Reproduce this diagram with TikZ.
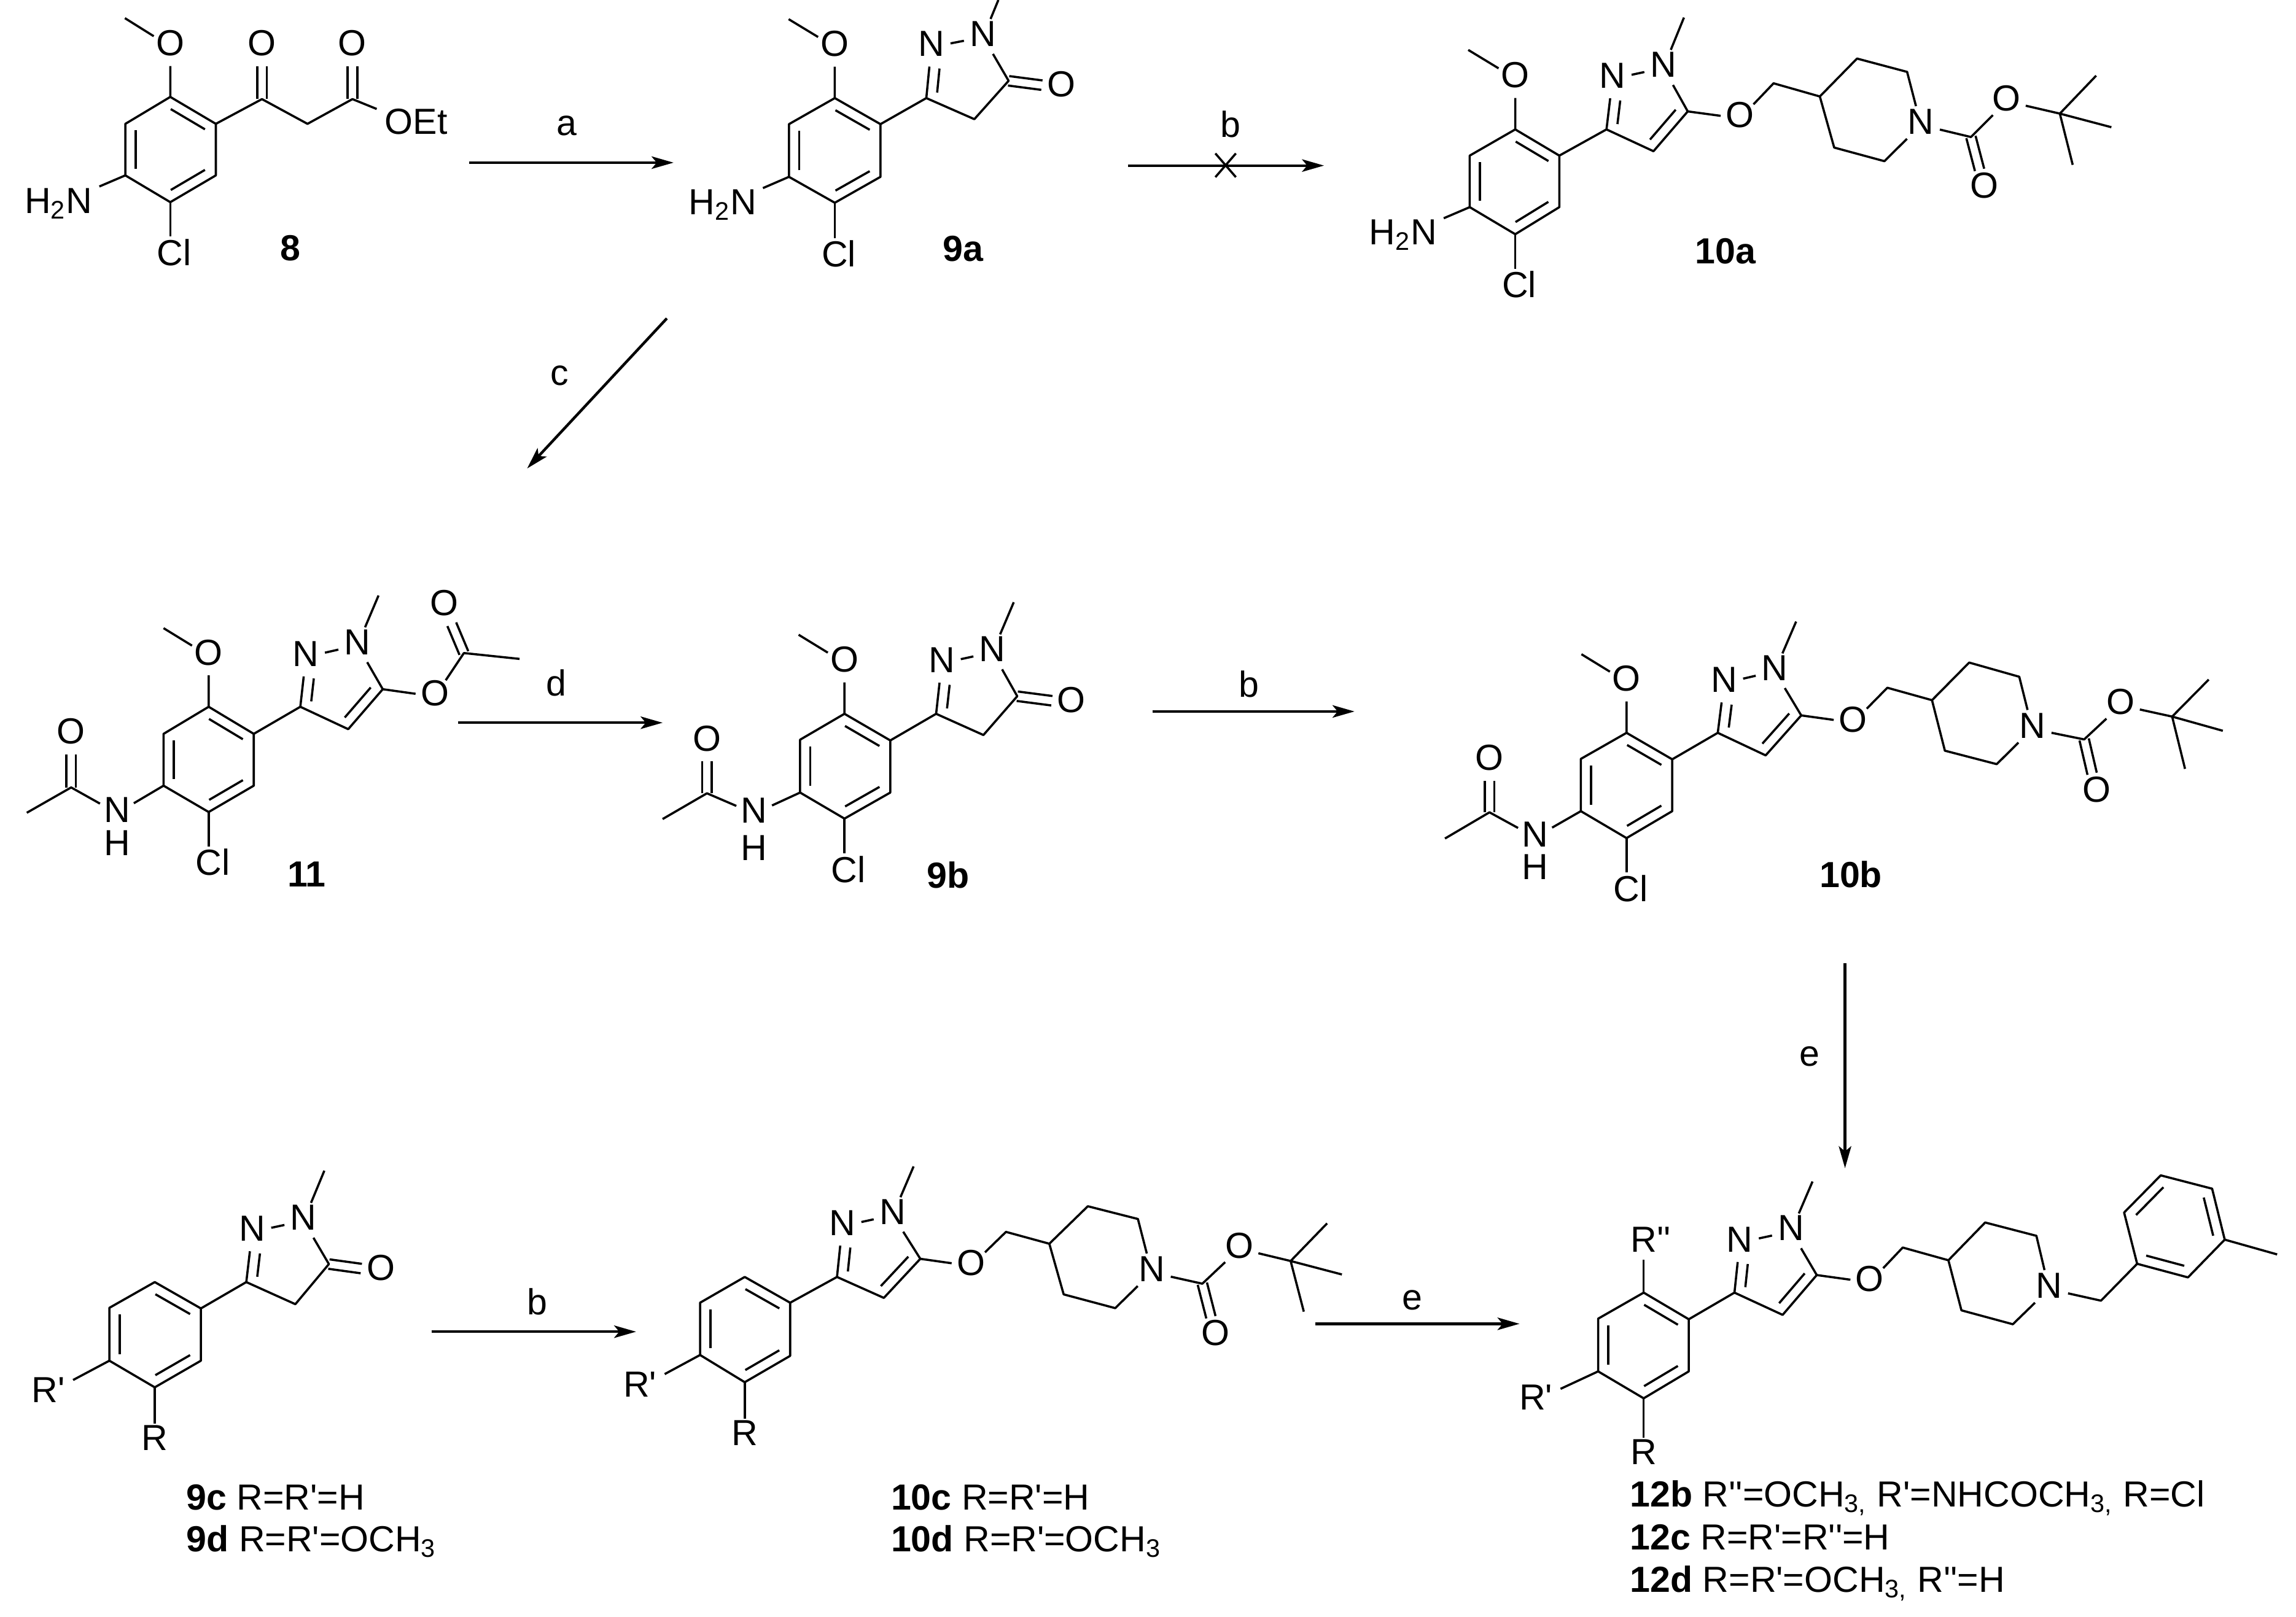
\documentclass[tikz,border=0pt]{standalone}
\usepackage{fontspec}
\setmainfont{Liberation Sans}[Ligatures=TeXOff]
\usetikzlibrary{arrows.meta, calc}

\newcommand{\pts}[2]{\foreach \n/\x/\y in {#2} {\coordinate (#1\n) at (\x,\y);}}
\newcommand{\atoms}[2]{\foreach \n/\t/\x/\y in {#2} {\node[atom] (#1\n) at (\x,\y) {\t};}}
% inner line of a double bond, on the right of a->b
\newcommand{\inbond}[3][0.09cm]{\draw[bond, shorten <=0.09cm, shorten >=#1] ($(#2)!-0.14cm!90:(#3)$) -- ($(#3)!-0.14cm!-90:(#2)$);}
% carbonyl: two lines either side of a->b
\newcommand{\cobond}[2]{
    \draw[bond, shorten >=0.27cm] ($(#1)!0.065cm!90:(#2)$) -- ($(#2)!0.065cm!-90:(#1)$);
    \draw[bond, shorten >=0.27cm] ($(#1)!-0.065cm!90:(#2)$) -- ($(#2)!-0.065cm!-90:(#1)$);
}
\newcommand{\aryl}[1]{
    \draw[bond] (#1c1) -- (#1c2) -- (#1c3) -- (#1c4) -- (#1c5) -- (#1c6) -- cycle;
    \inbond{#1c1}{#1c2} \inbond{#1c3}{#1c4} \inbond{#1c5}{#1c6}
}
\newcommand{\azole}[1]{
    \draw[bond] (#1c2) -- (#1p3) -- (#1pN) -- (#1qN) -- (#1pMe);
    \draw[bond] (#1qN) -- (#1p5) -- (#1p4) -- (#1p3);
    \inbond[0.28cm]{#1p3}{#1pN}
}
\newcommand{\anisyl}[1]{
    \draw[bond] (#1c1) -- (#1oO) -- (#1oMe);
    \draw[bond] (#1c4) -- (#1Cl);
}
\newcommand{\acetyl}[1]{
    \draw[bond] (#1c5) -- (#1aN) -- (#1aC) -- (#1aMe);
    \cobond{#1aC}{#1aO}
}
\newcommand{\pipe}[1]{
    \draw[bond] (#1p5) -- (#1xO) -- (#1xC) -- (#1r4) -- (#1r3) -- (#1r2) -- (#1rN) -- (#1s2) -- (#1s3) -- (#1r4);
}
\newcommand{\boc}[1]{
    \draw[bond] (#1rN) -- (#1bC) -- (#1bO) -- (#1bt) -- (#1bm);
    \draw[bond] (#1bn) -- (#1bt) -- (#1bk);
    \cobond{#1bC}{#1bD}
}

\begin{document}
\begin{tikzpicture}
    [
        x=0.02cm, y=-0.02cm,
        every node/.style={font=\fontsize{14.1}{16}\selectfont, text height=0.716em, text depth=0pt},
        atom/.style={circle, inner sep=0pt, minimum size=0.52cm},
        grp/.style={rectangle, inner sep=3pt},
        lbl/.style={anchor=west, inner sep=0pt},
        note/.style={inner sep=0pt},
        bond/.style={line width=0.85pt, line join=round},
        rxn/.style={line width=1.05pt, -{Stealth[length=0.3cm, width=0.17cm, inset=0.07cm]}}
    ]
    \useasboundingbox (0,0) rectangle (1568,1104.2);

    % compound 8
    \pts{m8}{c1/116.3/66.2, c2/147.4/84.6, c3/147.4/119.8, c4/116.3/138.1, c5/85.6/119.8, c6/85.6/84.6,
        oMe/85.3/12.4, k1/178.9/67.7, k2/210/84.6, k3/240.7/67.7}
    \atoms{m8}{oO/O/116.3/31.8, Cl/{C\rlap{l}}/116.3/175, kO/O/178.9/31.8, eO/O/240.7/31.8}
    \node[grp] (m8N) at (40,139.3) {H\textsubscript{2}N};
    \node[grp] (m8Et) at (284.2,85.4) {OEt};
    \node[note] (m8lab) at (198.3,171.8) {\textbf{8}};
    \aryl{m8}
    \anisyl{m8}
    \draw[bond] (m8c5) -- (m8N);
    \draw[bond] (m8c2) -- (m8k1) -- (m8k2) -- (m8k3) -- (m8Et);
    \cobond{m8k1}{m8kO}
    \cobond{m8k3}{m8eO}

    % compound 9a
    \pts{m9a}{c1/570.1/67, c2/601.3/84.8, c3/601.3/120.8, c4/570.1/138.5, c5/538.8/120.8, c6/538.8/84.8,
        oMe/538.6/13.1, p3/632.6/67, pMe/681.8/0, p5/688.8/55.2, p4/665.4/81.4}
    \atoms{m9a}{oO/O/570.1/32.2, Cl/{C\rlap{l}}/570.1/176, pN/N/636/32.2, qN/N/671.4/25.3, pO/O/724.9/59.9}
    \node[grp] (m9aN) at (493.5,140.4) {H\textsubscript{2}N};
    \node[note] (m9alab) at (657.9,172.2) {\textbf{9a}};
    \aryl{m9a}
    \anisyl{m9a}
    \azole{m9a}
    \cobond{m9ap5}{m9apO}
    \draw[bond] (m9ac5) -- (m9aN);

    % compound 10a
    \pts{m10a}{c1/1034.8/88.4, c2/1064.9/106.3, c3/1064.9/141.5, c4/1034.8/160, c5/1003.7/141.5, c6/1003.7/106.3,
        oMe/1002.7/34.1, p3/1097.1/88.4, pMe/1150/12, p5/1152.6/76.1, p4/1129.2/103.3,
        xC/1211.2/56.9, r4/1242.8/65.9, r3/1268.2/40, r2/1302.4/49.1, s2/1286.9/110.1, s3/1252.6/100.8,
        bC/1346/93.6, bt/1406.7/77.6, bm/1431.5/51.7, bn/1441.9/86.9, bk/1415.5/112.6}
    \atoms{m10a}{oO/O/1034.8/53.6, Cl/{C\rlap{l}}/1034.8/197, pN/N/1101.2/53.9, qN/N/1136/46.4, xO/O/1188.3/80.9,
        rN/N/1311.8/85.4, bO/O/1370.4/69.2, bD/O/1355.3/129.1}
    \node[grp] (m10aN) at (958.1,161) {H\textsubscript{2}N};
    \node[note] (m10alab) at (1178.5,173.7) {\textbf{10a}};
    \aryl{m10a}
    \anisyl{m10a}
    \azole{m10a}
    \inbond{m10ap5}{m10ap4}
    \pipe{m10a}
    \boc{m10a}
    \draw[bond] (m10ac5) -- (m10aN);

    % compound 11
    \pts{m11}{c1/142.5/482.8, c2/173.3/501.3, c3/173.3/536.7, c4/142.5/554.7, c5/111.7/536.7, c6/111.7/501.3,
        oMe/111.7/429.1, p3/205.1/482.8, pMe/258.5/406.8, p5/261.4/470.8, p4/237.8/498.1,
        aC/48.6/537.9, aMe/18.3/555.2, vC/316.8/446.1, vMe/354.8/450.1}
    \atoms{m11}{oO/O/142.5/448, Cl/{C\rlap{l}}/142.5/591.6, pN/N/208.9/448.8, qN/N/244.1/440.8, aN/N/79.9/555.5,
        aO/O/48.6/501.8, vO/O/297/475.8, vD/O/303.3/414}
    \node[note] (m11aH) at (79.9,578) {H};
    \node[note] (m11lab) at (209.4,599.6) {\textbf{11}};
    \aryl{m11}
    \anisyl{m11}
    \azole{m11}
    \inbond{m11p5}{m11p4}
    \acetyl{m11}
    \draw[bond] (m11p5) -- (m11vO) -- (m11vC) -- (m11vMe);
    \cobond{m11vC}{m11vD}

    % compound 9b
    \pts{m9b}{c1/576.7/487.6, c2/608/505.8, c3/608/541.4, c4/576.7/559.2, c5/546.4/541.4, c6/546.4/505.3,
        oMe/545.4/433.6, p3/639.3/487.6, pMe/692.3/411.4, p5/694.7/475.6, p4/671.6/502.1,
        aC/482.8/541.9, aMe/452.5/559.5}
    \atoms{m9b}{oO/O/576.7/452.8, Cl/{C\rlap{l}}/576.7/596.4, pN/N/643.1/453.1, qN/N/677.8/445.6, pO/O/731.7/480.4,
        aN/N/515.1/555.8, aO/O/482.8/506.6}
    \node[note] (m9baH) at (515.1,581.5) {H};
    \node[note] (m9blab) at (647.5,600.5) {\textbf{9b}};
    \aryl{m9b}
    \anisyl{m9b}
    \azole{m9b}
    \cobond{m9bp5}{m9bpO}
    \acetyl{m9b}

    % compound 10b
    \pts{m10b}{c1/1110.8/500.6, c2/1142/518.7, c3/1142/554.1, c4/1110.8/572.5, c5/1079.6/554.1, c6/1079.6/518.4,
        oMe/1080/446.9, p3/1173.1/500.6, pMe/1226.6/424.6, p5/1230.1/488.7, p4/1205.8/516,
        aC/1017.2/554.9, aMe/986.8/572.8,
        xC/1288.9/469.8, r4/1319.4/478.3, r3/1344.8/452.6, r2/1379/462.3, s2/1363.6/522, s3/1328.2/512.8,
        bC/1423.3/505.1, bt/1483.4/489.5, bm/1508.4/464.2, bn/1518/499.2, bk/1492.2/525.2}
    \atoms{m10b}{oO/O/1110.8/465.8, Cl/{C\rlap{l}}/1110.8/609.4, pN/N/1177.4/466.6, qN/N/1212/458.6, xO/O/1265.5/493.6,
        aN/N/1048.4/572, aO/O/1017.2/519.9,
        rN/N/1387.9/497.9, bO/O/1448.3/481.8, bD/O/1431.8/541.7}
    \node[note] (m10baH) at (1048.4,594.5) {H};
    \node[note] (m10blab) at (1264,599.8) {\textbf{10b}};
    \aryl{m10b}
    \anisyl{m10b}
    \azole{m10b}
    \inbond{m10bp5}{m10bp4}
    \acetyl{m10b}
    \pipe{m10b}
    \boc{m10b}

    % compound 9c, 9d
    \pts{m9c}{c1/105.7/875.8, c2/137.2/893.8, c3/137.2/929.5, c4/105.7/947.7, c5/74.7/929.5, c6/74.7/893.4,
        p3/168.2/875.8, pMe/221.5/799.7, p5/224.6/863.5, p4/201.7/890.9}
    \atoms{m9c}{pN/N/172.2/841.5, qN/N/207.3/834, pO/O/260.1/868.4}
    \node[grp] (m9cRp) at (33,951.7) {R'};
    \node[grp] (m9cR) at (105.7,984.6) {R};
    \node[lbl] (m9clab) at (127,1025.2) {\textbf{9c} R=R'=H};
    \node[lbl] (m9dlab) at (127,1053.6) {\textbf{9d} R=R'=OCH\textsubscript{3}};
    \aryl{m9c}
    \azole{m9c}
    \cobond{m9cp5}{m9cpO}
    \draw[bond] (m9cc5) -- (m9cRp);
    \draw[bond] (m9cc4) -- (m9cR);

    % compound 10c, 10d
    \pts{m10c}{c1/508.6/872.3, c2/539.6/889.9, c3/539.6/926.2, c4/508.6/944.2, c5/478.1/925.6, c6/478.1/889.9,
        p3/571.6/872.3, pMe/623.9/796.8, p5/628.5/859.9, p4/603.6/886.6,
        xC/687/841.5, r4/716.6/849.6, r3/742.9/824, r2/777.1/832.7, s2/761.6/893.6, s3/726.4/884.2,
        bC/821.1/876.9, bt/881.4/861.4, bm/906.3/835.7, bn/916.4/870.6, bk/890.4/896}
    \atoms{m10c}{pN/N/575.2/837.6, qN/N/609.7/830.1, xO/O/663.1/864.8, rN/N/786.5/869.2, bO/O/846.4/853, bD/O/830.3/912.9}
    \node[grp] (m10cRp) at (437,947.8) {R'};
    \node[grp] (m10cR) at (508.6,981.1) {R};
    \node[lbl] (m10clab) at (608.2,1025.2) {\textbf{10c} R=R'=H};
    \node[lbl] (m10dlab) at (608.2,1053.6) {\textbf{10d} R=R'=OCH\textsubscript{3}};
    \aryl{m10c}
    \azole{m10c}
    \inbond{m10cp5}{m10cp4}
    \pipe{m10c}
    \boc{m10c}
    \draw[bond] (m10cc5) -- (m10cRp);
    \draw[bond] (m10cc4) -- (m10cR);

    % compound 12b-d
    \pts{m12}{c1/1122.5/883, c2/1153.3/901.2, c3/1153.3/936.8, c4/1122.5/955.2, c5/1091.4/936.8, c6/1091.4/900.8,
        p3/1184.5/883, pMe/1237.8/807.1, p5/1240.7/871, p4/1217.4/898.2,
        xC/1299.4/852.2, r4/1330.6/860.9, r3/1355.7/835.1, r2/1390.7/844.2, s2/1374.6/904.6, s3/1339.5/895.1,
        bz/1434.8/888.5, t1/1459.5/863.3, t2/1494.2/872.6, t3/1519.3/846.8, t4/1510.7/812, t5/1475.6/802.9, t6/1450.6/828.3,
        tMe/1555.1/856.9}
    \atoms{m12}{pN/N/1188.1/848.8, qN/N/1223.2/841.2, xO/O/1276.9/876, rN/N/1399.3/880.6}
    \node[grp] (m12Rq) at (1122.5,848.8) {R\rlap{''}};
    \node[grp] (m12Rp) at (1048.8,956.6) {R'};
    \node[grp] (m12R) at (1122.5,994.2) {R};
    \node[lbl] (m12blab) at (1112.9,1023) {\textbf{12b} R''=OCH\textsubscript{3,} R'=NHCOCH\textsubscript{3,} R=Cl};
    \node[lbl] (m12clab) at (1112.9,1052.2) {\textbf{12c} R=R'=R''=H};
    \node[lbl] (m12dlab) at (1112.9,1081.4) {\textbf{12d} R=R'=OCH\textsubscript{3,} R''=H};
    \aryl{m12}
    \azole{m12}
    \inbond{m12p5}{m12p4}
    \pipe{m12}
    \draw[bond] (m12c1) -- (m12Rq);
    \draw[bond] (m12c5) -- (m12Rp);
    \draw[bond] (m12c4) -- (m12R);
    \draw[bond] (m12rN) -- (m12bz) -- (m12t1) -- (m12t2) -- (m12t3) -- (m12t4) -- (m12t5) -- (m12t6) -- (m12t1);
    \draw[bond] (m12t3) -- (m12tMe);
    \inbond{m12t2}{m12t1} \inbond{m12t4}{m12t3} \inbond{m12t6}{m12t5}

    % reaction arrows
    \pts{r}{a1/320.3/111.1, a2/460/111.1, b1/770.4/113.1, b2/904.2/113.1, c1/455.4/217.5, c2/360/320,
        d1/312.9/493.7, d2/452.5/493.7, e1/787/486, e2/925/486, f1/1260/658, f2/1260/798,
        g1/294.7/909.7, g2/434.4/909.7, h1/898.2/904.3, h2/1037.7/904.3,
        x1/830/104.8, x2/844/121, x3/844/104.8, x4/830/121}
    \foreach \n in {a,b,c,d,e,f,g,h} {\draw[rxn] (r\n1) -- (r\n2);}
    \draw[bond] (rx1) -- (rx2);
    \draw[bond] (rx3) -- (rx4);
    \node[note] (la) at (387,86) {a};
    \node[note] (lb) at (840.4,87.6) {b};
    \node[note] (lc) at (382,257) {c};
    \node[note] (ld) at (379.8,468.9) {d};
    \node[note] (le) at (853,470) {b};
    \node[note] (lf) at (1236,722) {e};
    \node[note] (lg) at (366.8,891.9) {b};
    \node[note] (lh) at (964.7,888.5) {e};
\end{tikzpicture}
\end{document}
